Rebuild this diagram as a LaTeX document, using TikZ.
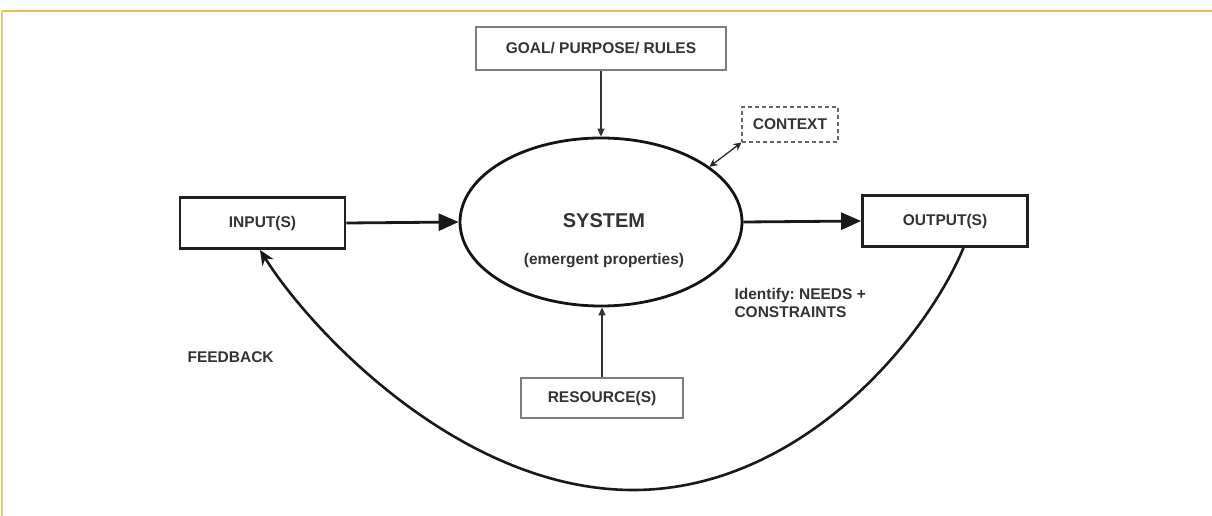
\documentclass[tikz,border=0pt]{standalone}
\usepackage{fontspec}
\setmainfont{Liberation Sans}
\usetikzlibrary{arrows.meta,calc,shapes.geometric}
\definecolor{frameorange}{HTML}{F2B94F}
\definecolor{ink}{HTML}{333333}
\definecolor{boxgray}{HTML}{7C7C7C}
\frenchspacing
\begin{document}
\begin{tikzpicture}[x=1pt,y=-1pt,
  lbl/.style={font=\fontsize{15.5}{18}\selectfont\bfseries, text=ink},
  thinbox/.style={lbl, draw=boxgray, line width=1.4pt, fill=white, inner sep=0pt},
  thickbox/.style={lbl, draw=black!88, line width=2.8pt, inner sep=0pt,
    minimum width=165pt, minimum height=51pt},
  ctxbox/.style={lbl, draw=black!60, line width=1.1pt, dash pattern=on 4pt off 3pt,
    inner sep=0pt, minimum width=96pt, minimum height=35pt},
  sysshape/.style={ellipse, draw=black!92, line width=2.8pt, inner sep=0pt,
    minimum width=282pt, minimum height=168pt},
  bigarrow/.style={draw=black!90, line width=2.8pt, -{Triangle[length=20pt,width=17pt]}},
  smallarrow/.style={draw=black!80, line width=1.4pt, -{Triangle[length=8pt,width=7pt]}},
  twoway/.style={draw=black!85, line width=1.3pt,
    {Stealth[length=8pt,width=8pt]}-{Stealth[length=8pt,width=8pt]}},
  fbarrow/.style={draw=black!90, line width=2.6pt, -{Stealth[length=15pt,width=13pt]}}
]
\useasboundingbox (0,0) rectangle (1212,516);

% frame lines of the panel
\draw[frameorange, line width=2pt] (2,11) -- (1212,11);
\draw[frameorange!80, line width=1.2pt] (2,11) -- (2,516);

% central system
\node[sysshape] (sys) at (601,222) {};
\node[lbl, font=\fontsize{20}{24}\selectfont\bfseries] (systitle) at (604,221) {SYSTEM};
\node[lbl] (sysnote) at (604,261) {(emergent properties)};

% surrounding boxes
\node[thinbox, minimum width=250pt, minimum height=43pt] (goal) at (601,48.5) {GOAL/ PURPOSE/ RULES};
\node[thinbox, minimum width=162pt, minimum height=40pt] (res) at (602,398) {RESOURCE(S)};
\node[thickbox] (in) at (262.5,223) {INPUT(S)};
\node[thickbox] (out) at (945,221) {OUTPUT(S)};
\node[ctxbox] (ctx) at (790,124.5) {CONTEXT};

% free labels
\node[lbl, anchor=north west, align=left] (needs) at (731,285) {Identify: NEEDS +\\CONSTRAINTS};
\node[lbl, anchor=west] (fb) at (184,357) {FEEDBACK};

% connectors
\draw[smallarrow] (goal.south) -- (sys.north);
\draw[smallarrow] (res.north) -- (res.north |- sys.south);
\draw[bigarrow] (in.east) -- (sys.west);
\draw[bigarrow] (sys.east) -- (out.west);
\draw[twoway] (ctx.south west) -- (sys.27);

% feedback loop from output back to input
\coordinate (fbstart) at ($(out.south west)!0.61!(out.south east)$);
\coordinate (fbend) at ($(in.south west)!0.485!(in.south east)$);
\draw[fbarrow] (fbstart) .. controls (925,340) and (800,490) .. (633,490)
  .. controls (460,490) and (310,330) .. (fbend);
\end{tikzpicture}
\end{document}
